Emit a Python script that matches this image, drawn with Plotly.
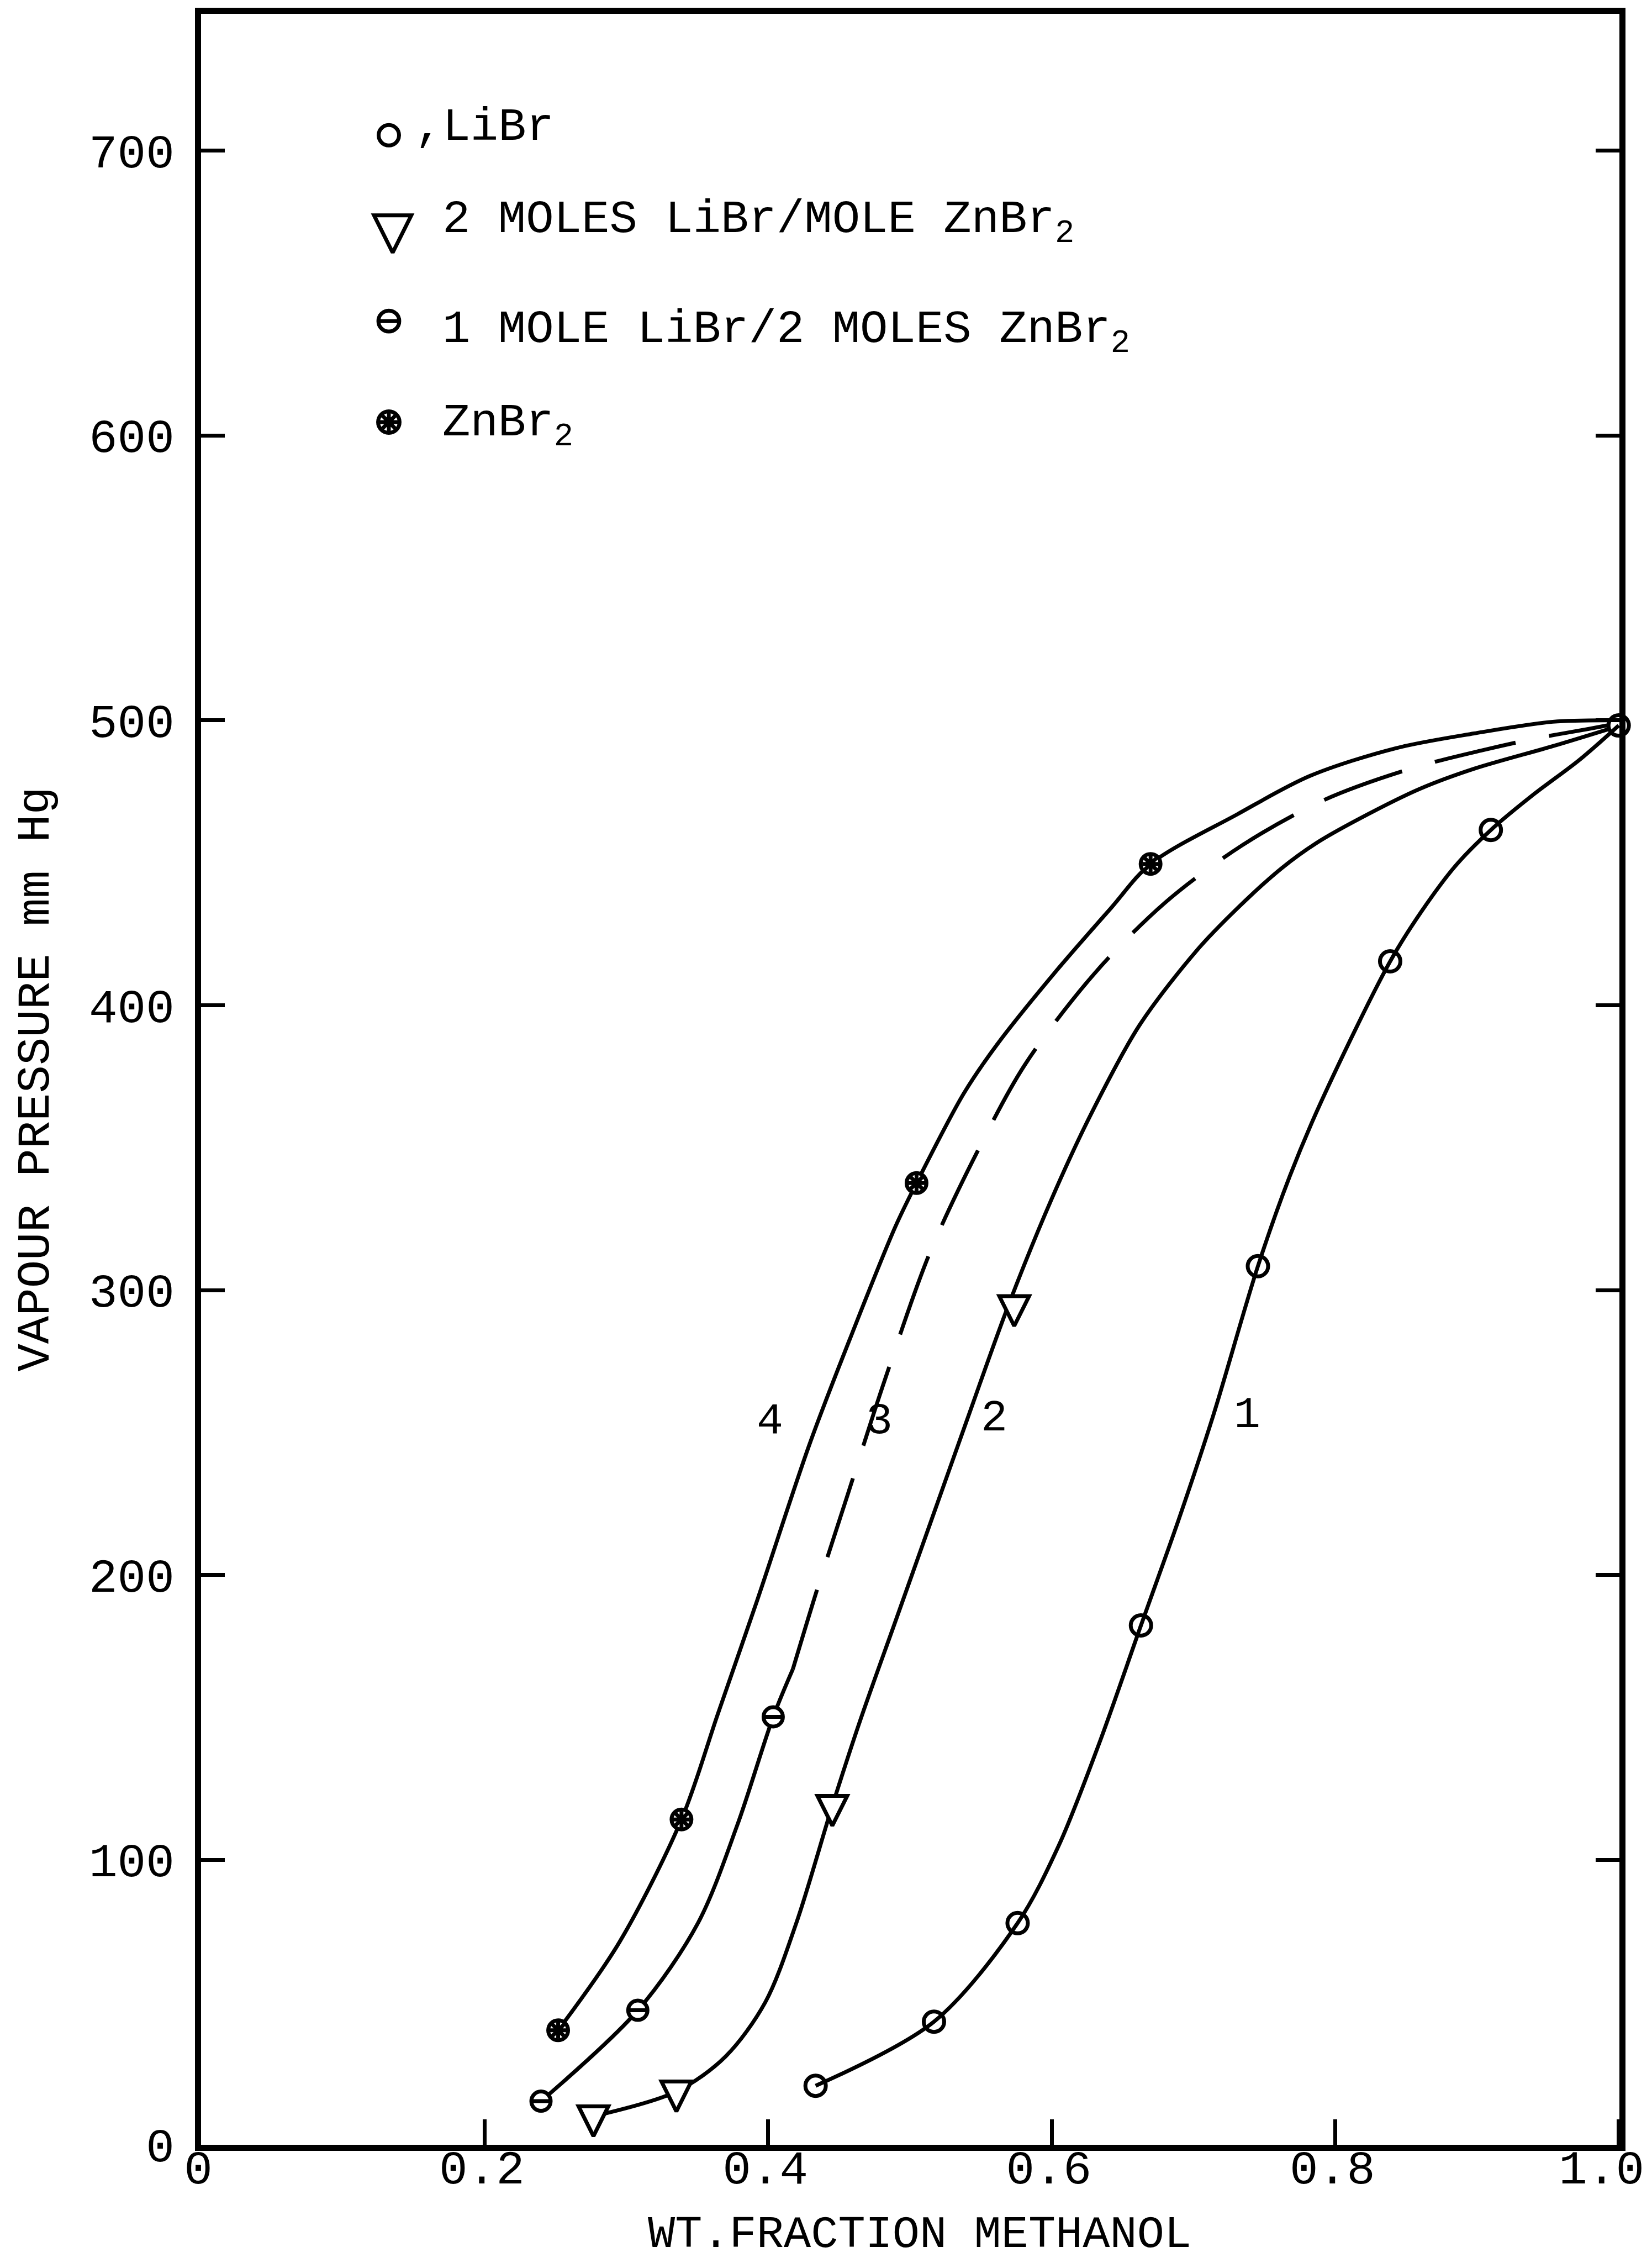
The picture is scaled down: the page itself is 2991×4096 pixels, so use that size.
import plotly.graph_objects as go

# ---------------- data ----------------
# Curve 1 : LiBr  (open circles)
libr_x = [0.4335, 0.517, 0.576, 0.663, 0.7455, 0.8388, 0.9098, 1.0]
libr_y = [20.7, 43.2, 77.8, 182.3, 308.4, 415.4, 461.5, 498.2]

# Curve 2 : 2 MOLES LiBr / MOLE ZnBr2  (triangles)
mix21_x = [0.2768, 0.3353, 0.4453, 0.5736]
mix21_y = [10.0, 18.7, 119.0, 294.4]

# Curve 3 : 1 MOLE LiBr / 2 MOLES ZnBr2  (circle with bar)
mix12_x = [0.2398, 0.3081, 0.4036]
mix12_y = [15.3, 47.2, 150.2]

# Curve 4 : ZnBr2  (starred circles)
znbr_x = [0.2519, 0.3389, 0.5047, 0.6698]
znbr_y = [40.2, 114.2, 337.6, 449.6]

# hand-drawn curves
curve1_x = [0.4335, 0.517, 0.576, 0.605, 0.634, 0.663, 0.690, 0.714, 0.7455, 0.768,
            0.790, 0.8388, 0.861, 0.885, 0.9098, 0.940, 0.972, 1.0]
curve1_y = [20.7, 43.2, 77.8, 105, 141.5, 182.3, 220, 256, 308.4, 340,
            366, 415.4, 433, 449, 461.5, 474, 486, 498.2]

curve2_x = [0.2768, 0.3353, 0.370, 0.398, 0.420, 0.4453, 0.465, 0.490, 0.515, 0.540,
            0.569, 0.600, 0.628, 0.662, 0.702, 0.731, 0.762, 0.787, 0.823, 0.860,
            0.898, 0.954, 1.0]
curve2_y = [10.0, 18.7, 31, 50, 78, 119, 149, 184, 219, 254,
            294, 332, 362, 393, 419, 434, 448, 457, 467, 476,
            483, 491, 498]

curve3_solid_x = [0.2398, 0.3081, 0.3505, 0.3784, 0.4036, 0.4175]
curve3_solid_y = [15.3, 47.2, 77.8, 112.4, 150.2, 167]
curve3_dash_x = [0.4175, 0.434, 0.456, 0.482, 0.514, 0.548, 0.581, 0.630,
                 0.680, 0.734, 0.792, 0.853, 0.904, 0.940, 0.979, 1.0]
curve3_dash_y = [167, 194, 228, 268, 313, 349, 379, 411,
                 436, 456, 472, 483, 489.5, 493.5, 497, 499]

curve4_x = [0.2519, 0.295, 0.3389, 0.3646, 0.3925, 0.4293, 0.4594, 0.4897, 0.5047,
            0.538, 0.5612, 0.6015, 0.6417, 0.6698, 0.7309, 0.7823, 0.8427, 0.898, 0.9535, 1.0]
curve4_y = [40.2, 71, 114.2, 151.3, 191.4, 246, 285, 322.2, 337.6,
            369, 386, 411, 434, 449.6, 467, 480.5, 490.2, 495.4, 499.5, 500]

curve_labels = ["4", "3", "2", "1"]
curve_label_x = [0.4012, 0.4786, 0.5595, 0.738]
curve_label_y = [254, 254, 255, 256]

x_tickvals = [0, 0.2, 0.4, 0.6, 0.8, 1.0]
x_ticktext = ["0", "0.2", "0.4", "0.6", "0.8", "1.0"]
y_tickvals = [0, 100, 200, 300, 400, 500, 600, 700]
y_ticktext = ["0", "100", "200", "300", "400", "500", "600", "700"]

legend_text = [",LiBr",
               "2 MOLES LiBr/MOLE ZnBr<sub>2</sub>",
               "1 MOLE LiBr/2 MOLES ZnBr<sub>2</sub>",
               "ZnBr<sub>2</sub>"]

x_title = "WT.FRACTION METHANOL"
y_title = "VAPOUR PRESSURE mm Hg"

# ---------------- styling ----------------
FONT = "Liberation Mono, Courier New, monospace"
INK = "black"
LW = 7
MLW = 7
XRANGE = [0, 1.0005]

fig = go.Figure()


def curve(x, y, dash="solid", xaxis="x"):
    fig.add_trace(go.Scatter(x=x, y=y, mode="lines", showlegend=False, hoverinfo="skip",
                             xaxis=xaxis,
                             line=dict(color=INK, width=LW, shape="spline", smoothing=0.9,
                                       dash=dash)))


# curve 1 is drawn on the twin x axis (same range) that carries the last tick label
curve(curve1_x, curve1_y, xaxis="x3")
curve(curve2_x, curve2_y)
curve(curve3_solid_x, curve3_solid_y)
curve(curve3_dash_x, curve3_dash_y, dash="150px,62px")
curve(curve4_x, curve4_y)


def markers(x, y, kind, scale=1.0, xaxis="x", yaxis="y"):
    layers = {
        "circle": [("circle", 37, "white", 0)],
        "triangle": [("arrow-down", 54, "white", 2.0 / 3.0)],
        "theta": [("circle", 35, "white", 0), ("line-ew-open", 25, None, 0)],
        "star": [("circle", 36, "white", 0), ("asterisk-open", 25, None, 0)],
    }[kind]
    for sym, size, fill, so in layers:
        s = size * scale
        m = dict(symbol=sym, size=s, line=dict(color=INK, width=MLW),
                 color=fill if fill is not None else INK)
        if so:
            m["standoff"] = s * so
        fig.add_trace(go.Scatter(x=x, y=y, mode="markers", marker=m, showlegend=False,
                                 hoverinfo="skip", cliponaxis=False,
                                 xaxis=xaxis, yaxis=yaxis))


markers(libr_x, libr_y, "circle")
markers(mix21_x, mix21_y, "triangle")
markers(mix12_x, mix12_y, "theta")
markers(znbr_x, znbr_y, "star")

# legend symbols on an overlay axis in paper-like [0,1] units
leg_sym_x = [0.1324, 0.1351, 0.1324, 0.1324]
leg_sym_y = [0.9430, 0.8996, 0.8558, 0.8084]
leg_kinds = ["circle", "triangle", "theta", "star"]
leg_scale = [1.0, 1.25, 1.08, 1.08]
for i in range(4):
    markers([leg_sym_x[i]], [leg_sym_y[i]], leg_kinds[i], scale=leg_scale[i],
            xaxis="x2", yaxis="y2")

annotations = []
leg_text_x = [0.1499, 0.1694, 0.1694, 0.1694]
leg_text_y = [0.9466, 0.9020, 0.8505, 0.8066]
for i, t in enumerate(legend_text):
    annotations.append(dict(text=t, xref="paper", yref="paper", x=leg_text_x[i],
                            y=leg_text_y[i], xanchor="left", yanchor="middle",
                            showarrow=False, font=dict(family=FONT, size=84, color=INK)))

for t, lx, ly in zip(curve_labels, curve_label_x, curve_label_y):
    annotations.append(dict(text=t, x=lx, y=ly, xref="x", yref="y", showarrow=False,
                            font=dict(family=FONT, size=80, color=INK)))

annotations.append(dict(text=x_title, xref="paper", yref="paper", x=0.5065, y=-0.0425,
                        xanchor="center", yanchor="middle", showarrow=False,
                        font=dict(family=FONT, size=82, color=INK)))
annotations.append(dict(text=y_title, xref="paper", yref="paper", x=-0.1164, y=0.5,
                        xanchor="center", yanchor="middle", textangle=-90, showarrow=False,
                        font=dict(family=FONT, size=84, color=INK)))

tickfont = dict(family=FONT, size=86, color=INK)

fig.update_layout(
    width=2991, height=4096,
    margin=dict(l=364, r=59, t=25, b=214, pad=0, autoexpand=False),
    paper_bgcolor="white", plot_bgcolor="white",
    font=dict(family=FONT, color=INK),
    showlegend=False,
    annotations=annotations,
    # main x axis: ticks everywhere, labels for 0 ... 0.8
    xaxis=dict(range=XRANGE, tickvals=x_tickvals, ticktext=x_ticktext[:-1] + [""],
               ticks="inside", ticklen=46, tickwidth=7, tickcolor=INK,
               showline=True, linewidth=11, linecolor=INK, mirror=True,
               showgrid=False, zeroline=False, ticklabelstandoff=-44, ticklabelshift=-5,
               ticklabeloverflow="allow", automargin=False, tickfont=tickfont),
    # twin x axis carrying the "1.0" label, nudged left as in the original
    xaxis3=dict(overlaying="x", anchor="y", side="bottom", range=XRANGE,
                tickvals=x_tickvals[-1:], ticktext=x_ticktext[-1:],
                ticks="", showline=True, linewidth=11, linecolor="rgba(0,0,0,0)",
                showgrid=False, zeroline=False, ticklabelstandoff=-44, ticklabelshift=-31,
                ticklabeloverflow="allow", automargin=False, tickfont=tickfont),
    yaxis=dict(range=[0, 748], tickvals=y_tickvals, ticktext=y_ticktext,
               ticks="inside", ticklen=43, tickwidth=7, tickcolor=INK,
               showline=True, linewidth=11, linecolor=INK, mirror="ticks",
               showgrid=False, zeroline=False, ticklabelstandoff=20,
               automargin=False, tickfont=tickfont),
    xaxis2=dict(overlaying="x", range=[0, 1], visible=False),
    yaxis2=dict(overlaying="y", range=[0, 1], visible=False),
)

fig.write_html("out.html")
